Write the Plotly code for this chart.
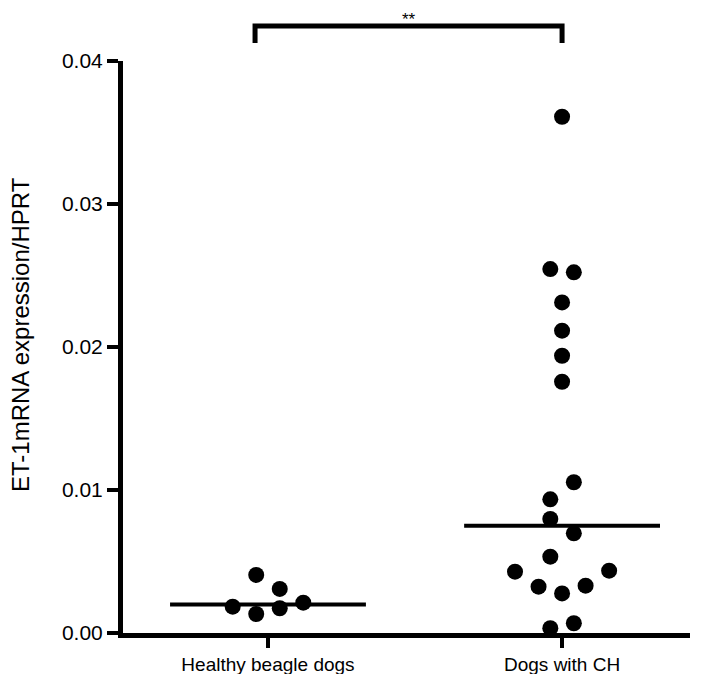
import plotly.graph_objects as go

# ---- data ----
categories = ["Healthy beagle dogs", "Dogs with CH"]
healthy_values = [0.00406, 0.00308, 0.00184, 0.00133, 0.00173, 0.00212]
healthy_slots = [-0.5, 0.5, -1.5, -0.5, 0.5, 1.5]
ch_values = [0.03610, 0.02545, 0.02522, 0.02312, 0.02114, 0.01939, 0.01757,
             0.01054, 0.00935, 0.00797, 0.00697, 0.00534, 0.00429, 0.00436,
             0.00324, 0.00277, 0.00331, 0.00033, 0.00068]
ch_slots = [0, -0.5, 0.5, 0, 0, 0, 0,
            0.5, -0.5, -0.5, 0.5, -0.5, -2, 2,
            -1, 0, 1, -0.5, 0.5]
medians = [0.0020, 0.0075]
y_ticks = [0.00, 0.01, 0.02, 0.03, 0.04]
y_tick_labels = ["0.00", "0.01", "0.02", "0.03", "0.04"]
significance = "**"
y_title = "ET-1mRNA expression/HPRT"

FONT = "Liberation Sans, Arial, sans-serif"
slot_w = 0.08  # category units per swarm slot
half_line = 0.333

positions = [1, 2]
fig = go.Figure()

for pos, vals, slots in [(1, healthy_values, healthy_slots), (2, ch_values, ch_slots)]:
    fig.add_trace(go.Scatter(
        x=[pos + s * slot_w for s in slots], y=vals, mode="markers",
        marker=dict(color="black", size=16, line=dict(width=0)),
        showlegend=False, hoverinfo="y", cliponaxis=False))

for pos, m in zip(positions, medians):
    fig.add_trace(go.Scatter(
        x=[pos - half_line, pos + half_line], y=[m, m], mode="lines",
        line=dict(color="black", width=4), showlegend=False, hoverinfo="skip"))

# significance bracket
br_left, br_right = 0.956, 2.0
fig.add_shape(type="path", xref="x", yref="paper",
              path=f"M {br_left},1.0315 L {br_left},1.0612 L {br_right},1.0612 L {br_right},1.0315",
              line=dict(color="black", width=5))
fig.add_annotation(x=(br_left + br_right) / 2, y=1.0927, xref="x", yref="paper",
                   text=significance, showarrow=False, yanchor="top", xanchor="center",
                   font=dict(family=FONT, size=17, color="black"))

fig.add_annotation(x=0, y=0.5, xref="paper", yref="paper", xshift=-103, yshift=12,
                   xanchor="center", yanchor="middle",
                   text=y_title, textangle=-90, showarrow=False,
                   font=dict(family=FONT, size=24, color="black"))

# page body has an 8px default margin, so the figure is sized to fit inside it
fig.update_layout(
    width=701, height=666, autosize=False,
    margin=dict(l=115, r=19, t=53, b=41, pad=0, autoexpand=False),
    paper_bgcolor="white", plot_bgcolor="white",
    font=dict(family=FONT, size=19, color="black"),
    xaxis=dict(range=[0.507, 2.435], tickvals=positions, ticktext=categories,
               showgrid=False, zeroline=False, showline=True, linecolor="black",
               linewidth=5, ticks="outside", ticklen=10, tickwidth=4,
               tickcolor="black", automargin=False),
    yaxis=dict(range=[0, 0.04], tickvals=y_ticks, ticktext=y_tick_labels,
               showgrid=False, zeroline=False, showline=True, linecolor="black",
               linewidth=5, ticks="outside", ticklen=11, tickwidth=4,
               tickcolor="black", automargin=False, tickfont=dict(size=21)),
)

fig.write_html("out.html")
